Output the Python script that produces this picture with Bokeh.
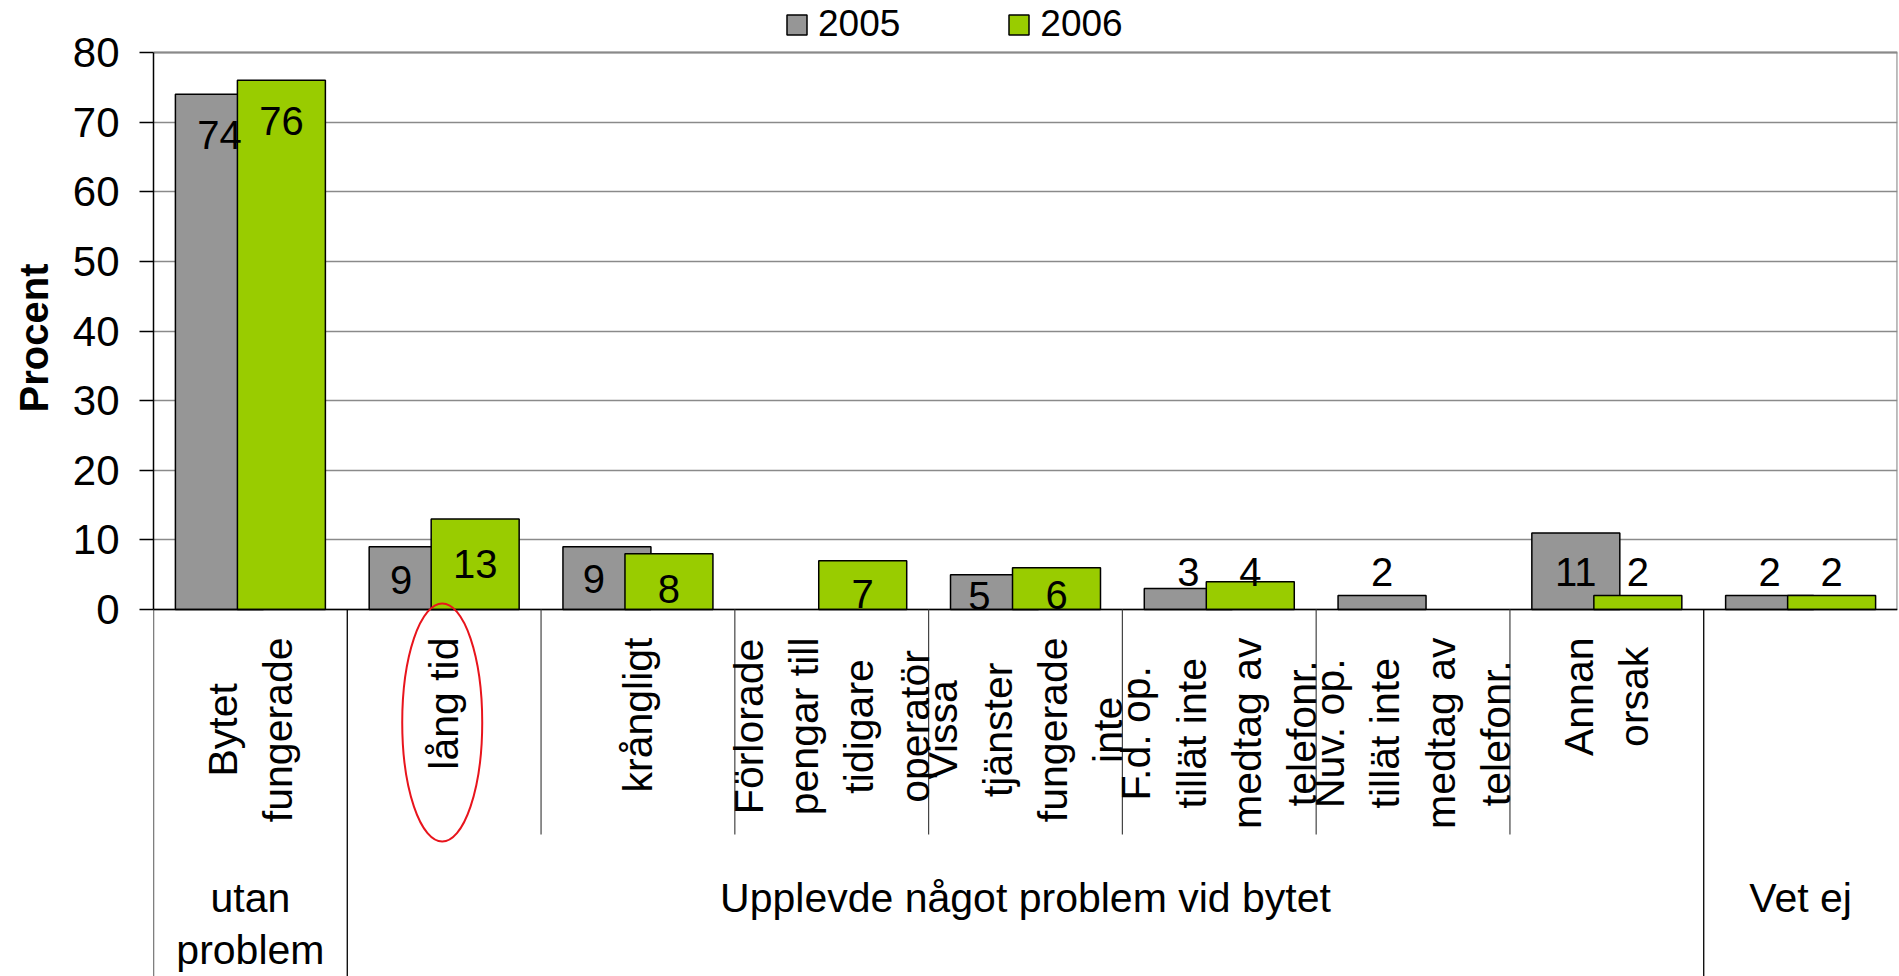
import numpy as np
from bokeh.plotting import figure
from bokeh.models import ColumnDataSource, Range1d, FixedTicker, Legend, LegendItem, Title
from bokeh.core.properties import value
from bokeh.embed import file_html
from bokeh.resources import INLINE

# ---------------- data ----------------
categories = [
    "Bytet\nfungerade",
    "lång tid",
    "krångligt",
    "Förlorade\npengar till\ntidigare\noperatör",
    "Vissa\ntjänster\nfungerade\ninte",
    "F.d. op.\ntillät inte\nmedtag av\ntelefonr.",
    "Nuv. op.\ntillät inte\nmedtag av\ntelefonr.",
    "Annan\norsak",
    "",
]
groups = ["utan\nproblem", "Upplevde något problem vid bytet", "Vet ej"]
group_members = [[0], [1, 2, 3, 4, 5, 6, 7], [8]]
series = ["2005", "2006"]
values_2005 = [74, 9, 9, None, 5, 3, 2, 11, 2]
values_2006 = [76, 13, 8, 7, 6, 4, None, 2, 2]
y_ticks = [0, 10, 20, 30, 40, 50, 60, 70, 80]
y_title = "Procent"
highlighted = "lång tid"

# ---------------- layout / style ----------------
FONT = "Liberation Sans"
COLORS = ["#969696", "#99CC00"]
PX = 6.9625                 # pixels per percent unit
W, H = 1899, 976
LEFT = 152
ZERO_PX = 609               # canvas y of value 0
Y_TOP = 80 + (ZERO_PX - 557) / PX
Y_BOTTOM = -(H - ZERO_PX) / PX
BAR_W = 0.454
BAR_SHIFT = 0.16
# label offsets (screen px): dy positive = below bar top, dx positive = right
label_dy = [
    [41, 33, 32, None, 21, -17, -24, 39, -24],
    [41, 45, 35, 33, 27, -10, None, -24, -24],
]
label_dx = [
    [0, -12, -13, None, -15, 0, 0, 0, 0],
    [0, 0, 0, 0, 0, 0, None, 0, 0],
]

n = len(categories)
centers = np.arange(n) + 0.5

p = figure(width=W, height=H, output_backend="svg", toolbar_location=None,
           x_range=Range1d(0, n), y_range=Range1d(Y_BOTTOM, Y_TOP),
           x_axis_location=None, min_border=0, min_border_left=LEFT,
           min_border_right=2)
p.outline_line_color = None
p.xgrid.visible = False

# y axis
ax = p.yaxis[0]
ax.bounds = (0, 80)
ax.ticker = FixedTicker(ticks=y_ticks)
ax.minor_tick_line_color = None
ax.major_tick_out = 14
ax.major_tick_in = 0
ax.major_tick_line_color = "black"
ax.major_tick_line_width = 1.5
ax.axis_line_color = "black"
ax.axis_line_width = 1.5
ax.major_label_text_font = FONT
ax.major_label_text_font_size = "42px"
ax.major_label_text_color = "black"
ax.major_label_standoff = 20

p.ygrid.ticker = FixedTicker(ticks=y_ticks)
p.ygrid.bounds = (0, 80)
p.ygrid.grid_line_color = "#8a8a8a"
p.ygrid.grid_line_width = 1.3

# y-axis title, placed next to the 0-80 value span
p.add_layout(Title(text=y_title, align="right", offset=263, vertical_align="top",
                   standoff=23, text_font=FONT, text_font_size="40px",
                   text_font_style="bold", text_color="black"), "left")

# plot area border (top / right)
p.segment(x0=[0, n], y0=[80, 0], x1=[n, n], y1=[80, 80], line_color="#8a8a8a", line_width=2.2)

# bars
legend_items = []
for k, (vals, name) in enumerate(zip([values_2005, values_2006], series)):
    sign = -1 if k == 0 else 1
    xs = [c + sign * BAR_SHIFT for c, v in zip(centers, vals) if v is not None]
    tops = [v for v in vals if v is not None]
    src = ColumnDataSource(dict(x=xs, top=tops))
    r = p.vbar(x="x", top="top", bottom=0, width=BAR_W, source=src,
               fill_color=COLORS[k], line_color="black", line_width=1.5)
    legend_items.append(LegendItem(label=name, renderers=[r]))

for k, (vals, name) in enumerate(zip([values_2005, values_2006], series)):
    sign = -1 if k == 0 else 1
    xs = [c + sign * BAR_SHIFT for c, v in zip(centers, vals) if v is not None]
    tops = [v for v in vals if v is not None]
    dys = [d for d, v in zip(label_dy[k], vals) if v is not None]
    dxs = [d for d, v in zip(label_dx[k], vals) if v is not None]
    src = ColumnDataSource(dict(x=xs, y=tops, t=[str(v) for v in tops], dy=dys, dx=dxs))
    p.text(x="x", y="y", text="t", x_offset="dx", y_offset="dy", source=src,
           text_align="center", text_baseline="middle",
           text_font=value(FONT), text_font_size="40px", text_color="black")

# x axis line at 0
p.segment(x0=[0], y0=[0], x1=[n], y1=[0], line_color="black", line_width=1.5)

# category separators
short_b = []
long_b = [0]
for g in group_members:
    short_b.extend(g[1:])
    if g[-1] + 1 < n:
        long_b.append(g[-1] + 1)
SHORT_END = -(834 - ZERO_PX) / PX
p.segment(x0=short_b, y0=[0] * len(short_b), x1=short_b, y1=[SHORT_END] * len(short_b),
          line_color="#444444", line_width=1.2)
p.segment(x0=long_b, y0=[0] * len(long_b), x1=long_b, y1=[Y_BOTTOM] * len(long_b),
          line_color="black", line_width=1.3)

# category labels (rotated)
CAT_TOP = -(637 - ZERO_PX) / PX
p.text(x=list(centers), y=[CAT_TOP] * n, text=categories, angle=np.pi / 2,
       anchor=value("center_right"), text_align="center", text_baseline="middle",
       text_line_height=1.2,
       text_font=value(FONT), text_font_size="41px", text_color="black")

# group labels
GROUP_TOP = -(874 - ZERO_PX) / PX
gx = [(g[0] + g[-1] + 1) / 2 for g in group_members]
p.text(x=gx, y=[GROUP_TOP] * len(gx), text=groups,
       anchor=value("top_center"), text_align="center", text_line_height=1.15,
       text_font=value(FONT), text_font_size="41px", text_color="black")

# highlight ellipse
hi = categories.index(highlighted)
p.ellipse(x=[centers[hi] - 0.01], y=[-(722 - ZERO_PX) / PX], width=80, height=238,
          width_units="screen", height_units="screen",
          fill_color=None, line_color="#E8141C", line_width=2)

# legend
legend = Legend(items=legend_items, orientation="horizontal",
                location=(783 - LEFT, H - 45), glyph_width=25, glyph_height=25,
                label_standoff=9, spacing=106, padding=0, margin=0,
                label_text_font=FONT, label_text_font_size="37px",
                label_text_color="black", border_line_color=None,
                background_fill_alpha=0)
p.add_layout(legend)

open("out.html", "w").write(file_html(p, INLINE))
